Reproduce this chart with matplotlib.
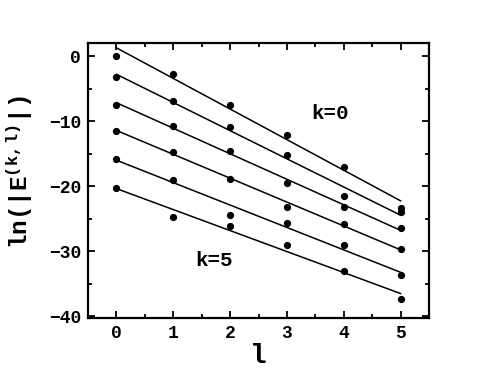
import numpy as np
import matplotlib
matplotlib.use("Agg")
import matplotlib.pyplot as plt
from matplotlib.ticker import MultipleLocator

# données
l_vals = [0, 1, 2, 3, 4, 5]
ln_k0 = [0.05, -2.8, -7.6, -12.2, -17.1, -23.4]
ln_k1 = [-3.3, -6.9, -10.9, -15.3, -21.5, -24.0]
ln_k2 = [-7.5, -10.7, -14.6, -19.5, -23.2, -26.5]
ln_k3 = [-11.5, -14.7, -18.9, -23.2, -25.8, -29.7]
ln_k4 = [-15.8, -19.1, -24.5, -25.7, -29.1, -33.7]
ln_k5 = [-20.3, -24.8, -26.2, -29.1, -33.0, -37.4]
series = [ln_k0, ln_k1, ln_k2, ln_k3, ln_k4, ln_k5]

police = "Liberation Mono"
plt.rcParams['font.family'] = police
plt.rcParams['font.weight'] = 'bold'
plt.rcParams['mathtext.fontset'] = 'custom'
plt.rcParams['mathtext.rm'] = police + ':bold'
plt.rcParams['mathtext.bf'] = police + ':bold'
plt.rcParams['mathtext.it'] = police + ':bold'

fig = plt.figure(figsize=(4.98, 3.81), dpi=100)
ax = fig.add_axes([88 / 498, 1 - 318 / 381, (429 - 88) / 498, (318 - 43) / 381])

x = np.array(l_vals)
for y in series:
    ax.plot(x, y, 'o', color='black', markersize=4.2)
    # droite d'ajustement (moindres carrés)
    pente, origine = np.polyfit(x, y, 1)
    ax.plot(x, pente * x + origine, '-', color='black', linewidth=1.1)

ax.text(3.75, -8.8, 'k=0', fontsize=15, fontweight='bold', ha='center', va='center')
ax.text(1.72, -31.4, 'k=5', fontsize=15, fontweight='bold', ha='center', va='center')

ax.set_xlim(-0.5, 5.5)
ax.set_ylim(-40.3, 2)
ax.xaxis.set_major_locator(MultipleLocator(1))
ax.xaxis.set_minor_locator(MultipleLocator(0.5))
ax.yaxis.set_major_locator(MultipleLocator(10))
ax.yaxis.set_minor_locator(MultipleLocator(5))
ax.tick_params(which='both', direction='in', top=True, right=True, width=1.3)
ax.tick_params(which='major', length=5, labelsize=13, pad=5)
ax.tick_params(which='minor', length=3)
for sp in ax.spines.values():
    sp.set_linewidth(1.6)
ax.set_yticks([0, -10, -20, -30, -40])
ax.set_yticklabels(['0', '\u221210', '\u221220', '\u221230', '\u221240'])

ax.set_xlabel('l', fontsize=20, fontweight='bold', labelpad=1)
ax.set_ylabel(r'ln(|E$^{\mathrm{(k,l)}}$|)', fontsize=17.5, fontweight='bold')
ax.yaxis.set_label_coords(-0.155, 0.53)

fig.savefig('out.png', dpi=100)
